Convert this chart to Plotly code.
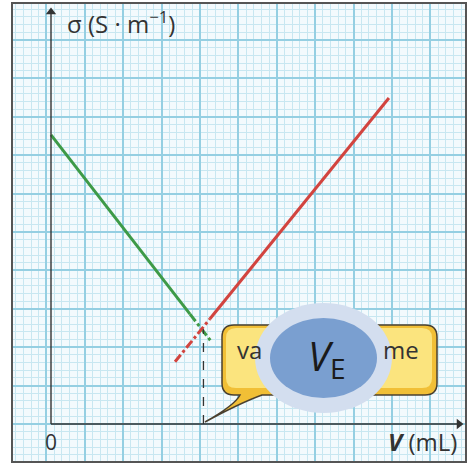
import plotly.graph_objects as go

# conductimetric titration: sigma vs added volume
v_green = [0, 3.62]
s_green = [7.53, 2.86]
v_green_ext = [3.62, 4.18]
s_green_ext = [2.86, 2.14]

v_red = [4.14, 8.80]
s_red = [2.74, 8.49]
v_red_ext = [3.23, 4.14]
s_red_ext = [1.62, 2.74]

v_eq = 3.97
s_eq = 2.47

# pixel -> data helpers for the decorations (1 big square = 38.4 px)
U = 38.4
OX, OY = 51, 424


def fx(px):
    return (px - OX) / U


def fy(py):
    return (OY - py) / U


def rrect(x0, y0, x1, y1, r, tail=None):
    p = f"M {fx(x0 + r)},{fy(y0)} L {fx(x1 - r)},{fy(y0)} Q {fx(x1)},{fy(y0)} {fx(x1)},{fy(y0 + r)}"
    p += f" L {fx(x1)},{fy(y1 - r)} Q {fx(x1)},{fy(y1)} {fx(x1 - r)},{fy(y1)}"
    if tail:
        a, tipx, tipy, b = tail
        p += f" L {fx(b)},{fy(y1)} Q {fx(b - 22)},{fy(y1 + 8)} {fx(tipx)},{fy(tipy)}"
        p += f" Q {fx(a - 5)},{fy(y1 + 10)} {fx(a)},{fy(y1)}"
    p += f" L {fx(x0 + r)},{fy(y1)} Q {fx(x0)},{fy(y1)} {fx(x0)},{fy(y1 - r)}"
    p += f" L {fx(x0)},{fy(y0 + r)} Q {fx(x0)},{fy(y0)} {fx(x0 + r)},{fy(y0)} Z"
    return p


fig = go.Figure()

fig.add_trace(go.Scatter(x=v_green, y=s_green, mode="lines",
                         line=dict(color="#3d9a47", width=3)))
fig.add_trace(go.Scatter(x=v_green_ext, y=s_green_ext, mode="lines",
                         line=dict(color="#3d9a47", width=3, dash="dashdot")))
fig.add_trace(go.Scatter(x=v_red, y=s_red, mode="lines",
                         line=dict(color="#d2443f", width=3)))
fig.add_trace(go.Scatter(x=v_red_ext, y=s_red_ext, mode="lines",
                         line=dict(color="#d2443f", width=3, dash="dashdot")))
fig.add_trace(go.Scatter(x=[v_eq, v_eq], y=[0, s_eq], mode="lines",
                         line=dict(color="#333333", width=1.3, dash="dash")))

# axes drawn through the origin
fig.add_shape(type="line", x0=0, y0=0, x1=fx(458), y1=0, xref="x", yref="y",
              line=dict(color="#333333", width=1.4), layer="above")
fig.add_shape(type="line", x0=0, y0=0, x1=0, y1=fy(12), xref="x", yref="y",
              line=dict(color="#333333", width=1.4), layer="above")
fig.add_trace(go.Scatter(x=[fx(459)], y=[0], mode="markers",
                         marker=dict(symbol="triangle-right", size=9, color="#333333")))
fig.add_trace(go.Scatter(x=[0], y=[fy(12)], mode="markers",
                         marker=dict(symbol="triangle-up", size=9, color="#333333")))

# speech bubble + blue label
fig.add_shape(type="path", path=rrect(222, 325, 437, 395, 12, tail=(240, 205, 422, 262)),
              xref="x", yref="y", fillcolor="#f1bf36", line=dict(color="#4a4030", width=1.5),
              layer="above")
fig.add_shape(type="path", path=rrect(226, 328, 432, 388, 10),
              xref="x", yref="y", fillcolor="#fbe47e", line=dict(width=0), layer="above")
fig.add_shape(type="circle", x0=fx(255), x1=fx(392), y0=fy(413), y1=fy(303),
              xref="x", yref="y", fillcolor="#d3deef", line=dict(width=0), layer="above")
fig.add_shape(type="circle", x0=fx(270), x1=fx(377), y0=fy(398), y1=fy(318),
              xref="x", yref="y", fillcolor="#7a9fd0", line=dict(width=0), layer="above")

ann = []
ann.append(dict(x=fx(65), y=fy(22), xref="x", yref="y", xanchor="left", yanchor="middle",
                text="σ (S · m<sup>−1</sup>)", showarrow=False,
                font=dict(size=24, color="#333333")))
ann.append(dict(x=fx(459), y=fy(441), xref="x", yref="y", xanchor="right", yanchor="middle",
                text="<b><i>V</i></b> (mL)", showarrow=False,
                font=dict(size=24, color="#333333")))
ann.append(dict(x=0, y=fy(442), xref="x", yref="y", xanchor="center", yanchor="middle",
                text="0", showarrow=False, font=dict(size=21, color="#333333")))
ann.append(dict(x=fx(235), y=fy(349), xref="x", yref="y", xanchor="left", yanchor="middle",
                text="va", showarrow=False, font=dict(size=24, color="#333333")))
ann.append(dict(x=fx(421), y=fy(349), xref="x", yref="y", xanchor="right", yanchor="middle",
                text="me", showarrow=False, font=dict(size=24, color="#333333")))
ann.append(dict(x=fx(327), y=fy(357), xref="x", yref="y", xanchor="center", yanchor="middle",
                text="<i>V</i><sub>E</sub>", showarrow=False,
                font=dict(size=40, color="#1a1a1a")))

grid_major = "#95cfe2"
grid_minor = "#c8e7f1"

fig.update_layout(
    width=468, height=463,
    margin=dict(l=13, r=3, t=4, b=2),
    paper_bgcolor="white",
    plot_bgcolor="#f3fafd",
    showlegend=False,
    hovermode=False,
    font=dict(family="Open Sans, Liberation Sans, sans-serif"),
    annotations=ann,
    xaxis=dict(range=[fx(13), fx(465)], tick0=-0.12, dtick=1, showticklabels=False,
               ticks="", zeroline=False, showgrid=True, gridcolor=grid_major, gridwidth=1.5,
               minor=dict(tick0=-0.12, dtick=0.2, showgrid=True, gridcolor=grid_minor, gridwidth=1),
               showline=True, mirror=True, linecolor="#555555", linewidth=1.5),
    yaxis=dict(range=[fy(461), fy(4)], tick0=0, dtick=1, showticklabels=False,
               ticks="", zeroline=False, showgrid=True, gridcolor=grid_major, gridwidth=1.5,
               minor=dict(tick0=0, dtick=0.2, showgrid=True, gridcolor=grid_minor, gridwidth=1),
               showline=True, mirror=True, linecolor="#555555", linewidth=1.5),
)

fig.write_html("out.html", config={"displayModeBar": False},
               post_script="document.body.style.margin='0';")
